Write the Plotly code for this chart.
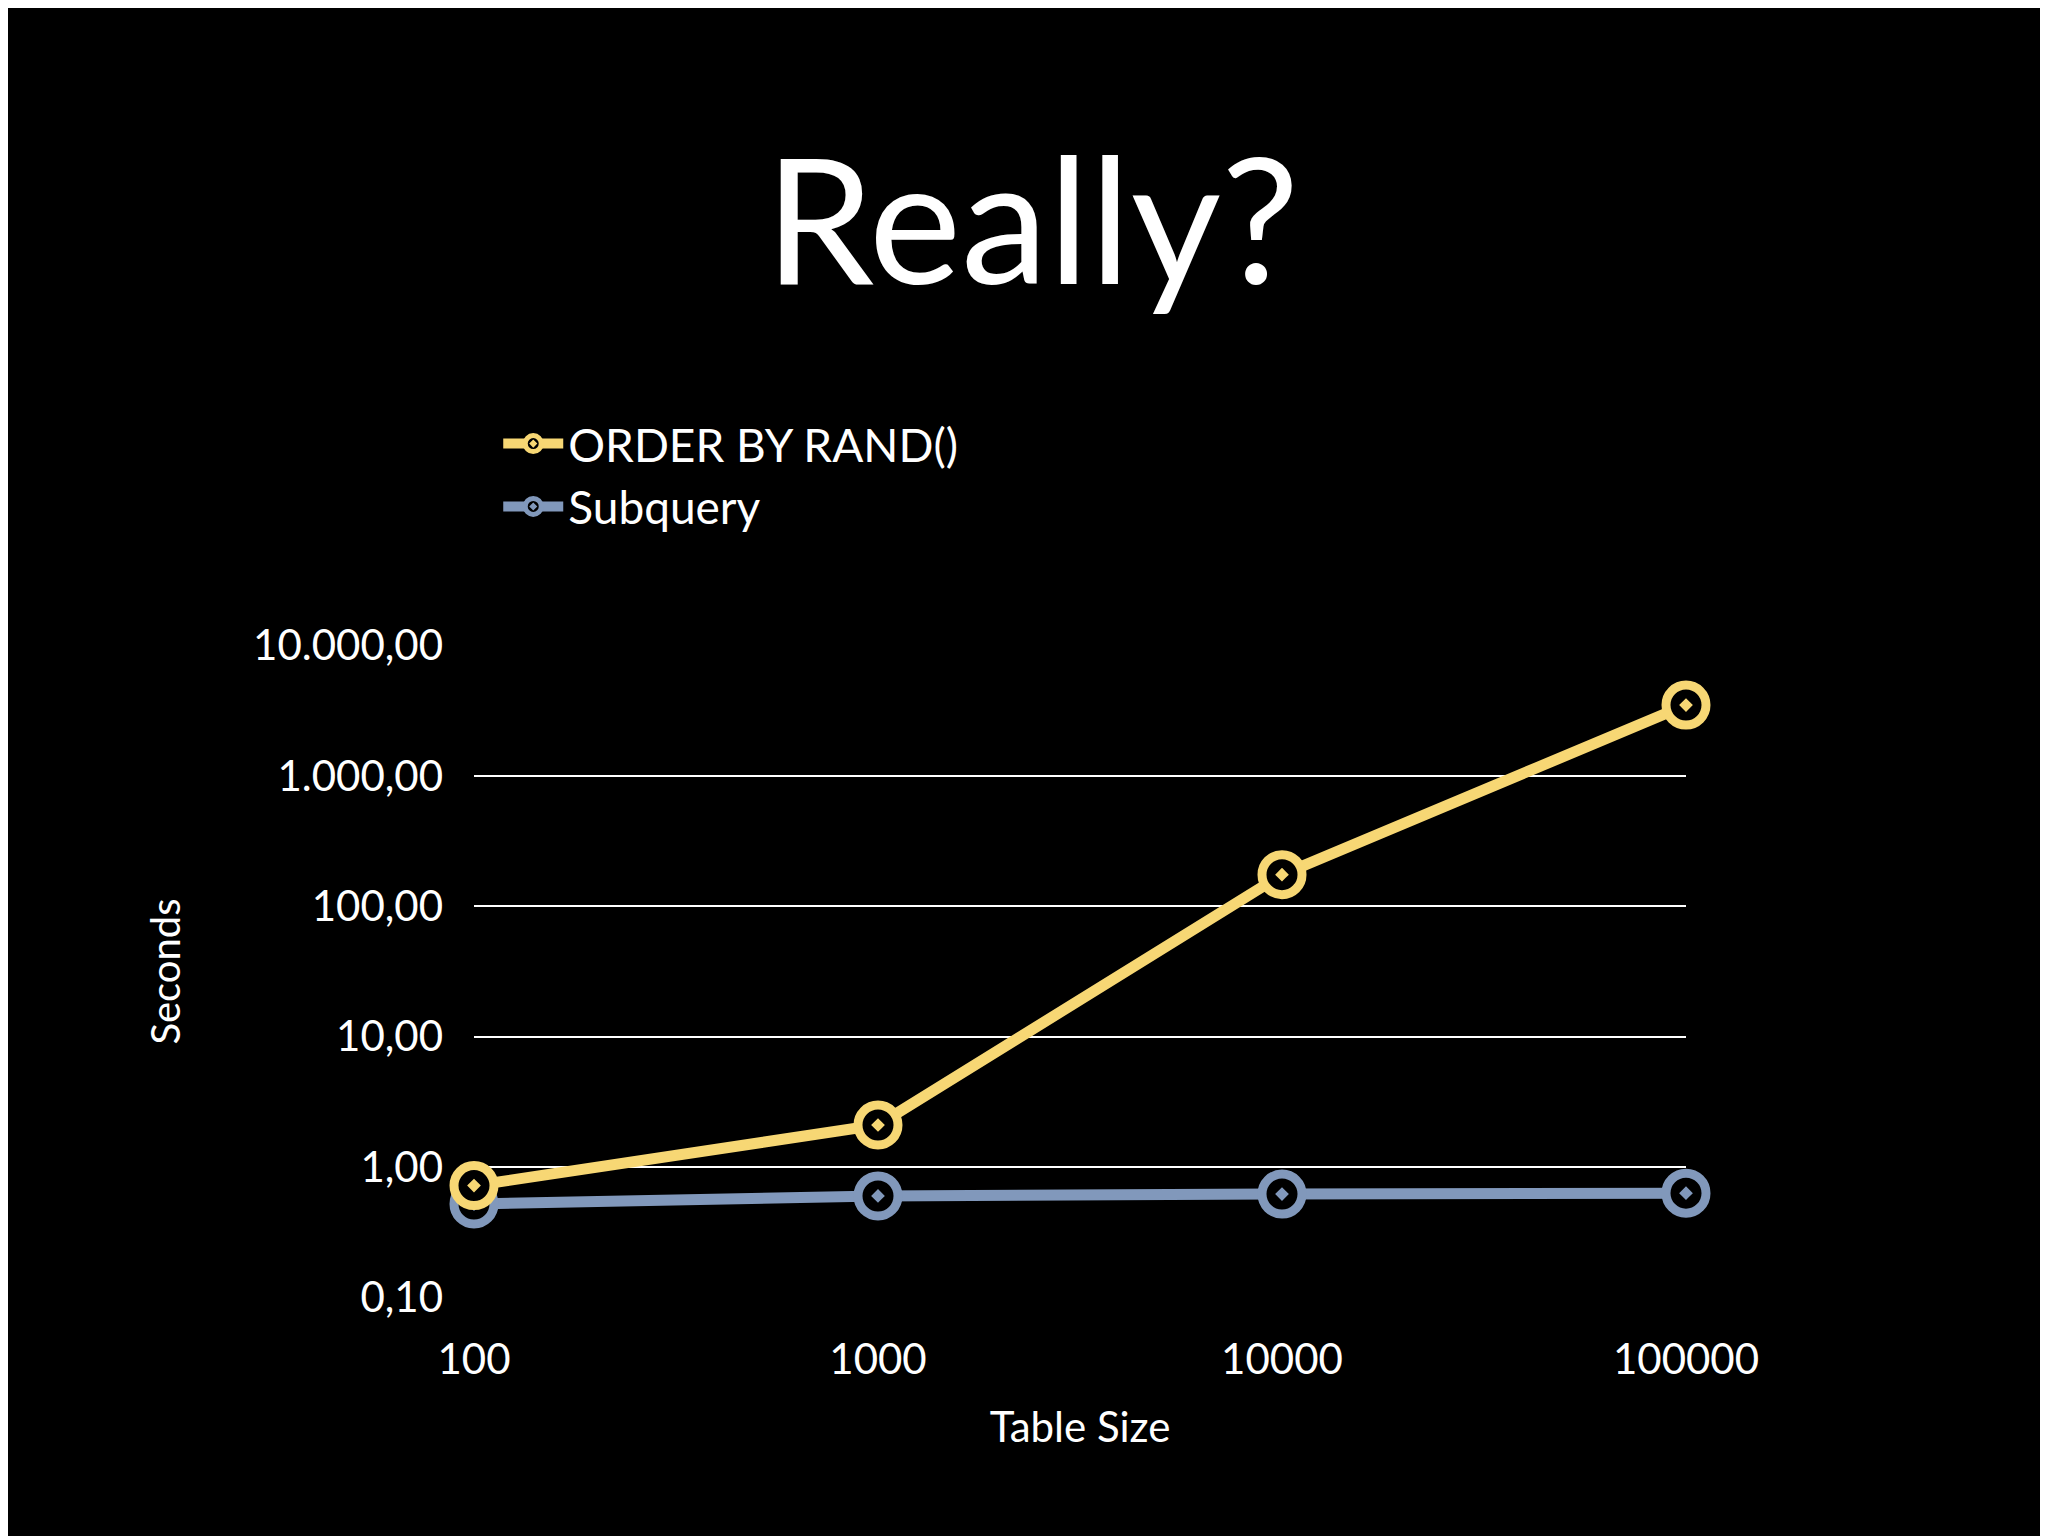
import plotly.graph_objects as go

# Table sizes and timings (seconds)
table_sizes = [100, 1000, 10000, 100000]
order_by_rand = [0.72, 2.1, 175, 3500]
subquery = [0.52, 0.60, 0.62, 0.63]

y_ticks = [0.1, 1, 10, 100, 1000, 10000]
y_labels = ['0,10', '1,00', '10,00', '100,00', '1.000,00', '10.000,00']

FONT = 'Lato'
YELLOW = '#F7D774'
BLUE = '#8198BB'

fig = go.Figure()
fig.add_trace(go.Scatter(
    x=table_sizes, y=subquery, name='Subquery', mode='lines+markers',
    line=dict(color=BLUE, width=11), cliponaxis=False,
    marker=dict(size=40, symbol='circle-dot', color='black', line=dict(color=BLUE, width=9)),
))
fig.add_trace(go.Scatter(
    x=table_sizes, y=order_by_rand, name='ORDER BY RAND()', mode='lines+markers',
    line=dict(color=YELLOW, width=11), cliponaxis=False,
    marker=dict(size=40, symbol='circle-dot', color='black', line=dict(color=YELLOW, width=9)),
))

fig.update_layout(
    width=2048, height=1536,
    paper_bgcolor='black', plot_bgcolor='black',
    font=dict(family=FONT, color='white'),
    margin=dict(l=466, r=370, t=637, b=246),
    title=dict(text='Really?', x=0.5, xanchor='center', y=0.86, yanchor='middle',
               font=dict(size=175, color='white', family=FONT)),
    showlegend=True,
    legend=dict(orientation='h', x=0.02, y=1.26, xanchor='left', yanchor='middle',
                font=dict(size=46, color='white'), traceorder='reversed',
                itemwidth=60, entrywidth=740, entrywidthmode='pixels',
                bgcolor='rgba(0,0,0,0)'),
    xaxis=dict(type='log', range=[2, 5], showgrid=False, zeroline=False,
               tickvals=table_sizes, ticktext=[str(v) for v in table_sizes],
               tickfont=dict(size=42), ticks='outside', ticklen=25, tickcolor='rgba(0,0,0,0)',
               showline=False,
               title=dict(text='Table Size', font=dict(size=42), standoff=30)),
    yaxis=dict(type='log', range=[-1.005, 4.005], showgrid=True, gridcolor='white', gridwidth=2,
               zeroline=False, tickvals=y_ticks, ticktext=y_labels,
               tickfont=dict(size=42), ticks='', ticklabelstandoff=30,
               title=dict(text='Seconds', font=dict(size=40), standoff=60)),
)

fig.write_html('out.html')
